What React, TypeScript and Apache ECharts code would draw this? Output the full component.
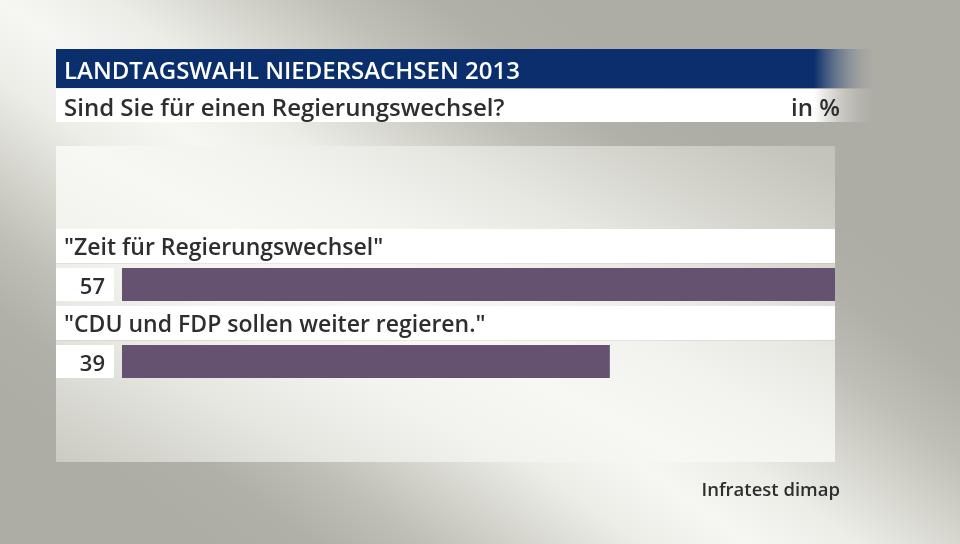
import React, { useEffect, useRef } from "react";
import * as echarts from "echarts";

const categories = ['"Zeit für Regierungswechsel"', '"CDU und FDP sollen weiter regieren."'];
const values = [57, 39];
const title = "LANDTAGSWAHL NIEDERSACHSEN 2013";
const subtitle = "Sind Sie für einen Regierungswechsel?";
const unitLabel = "in %";
const source = "Infratest dimap";
const xMax = 57;

const FONT = "'Open Sans', 'Noto Sans', sans-serif";
const TEXT = "#2e2e2e";
const BAR = "#655270";
const BLUE = "#0a2f6c";

function gradient(x: number, y: number, x2: number, y2: number, cols: string[]) {
  const offs = [0, 0.1, 0.2, 0.3, 0.4, 0.5];
  const stops: any[] = [];
  offs.forEach((o, i) => stops.push({ offset: o, color: cols[i] }));
  for (let i = offs.length - 2; i >= 0; i--) stops.push({ offset: 1 - offs[i], color: cols[i] });
  return { type: "linear", x, y, x2, y2, global: true, colorStops: stops };
}

const outerCols = ["#aeada5", "#b1b0a8", "#bfbeb7", "#d6d6cf", "#ecede7", "#f6f7f2"];
const panelCols = ["#bdbcb5", "#c5c5be", "#d5d5ce", "#e6e7e1", "#f2f3ee", "#f7f8f3"];

export default function App() {
  const ref = useRef<HTMLDivElement>(null);
  useEffect(() => {
    if (!ref.current) return;
    const chart = echarts.init(ref.current, null, { renderer: "svg" });
    const data = values.map((v, i) => [v, i]);
    chart.setOption({
      animation: false,
      grid: { left: 122, right: 125, top: 229, height: 154 },
      xAxis: { type: "value", min: 0, max: xMax, show: false },
      yAxis: { type: "category", data: categories, inverse: true, show: false },
      graphic: [
        { type: "rect", z: -10, shape: { x: 0, y: 0, width: 960, height: 544 }, style: { fill: gradient(187, 531, 563, 13, outerCols) } },
        { type: "rect", z: -9, shape: { x: 56, y: 146, width: 779, height: 316 }, style: { fill: gradient(194, 657, 556, -57, panelCols) } },
        {
          type: "rect",
          z: -5,
          shape: { x: 56, y: 49, width: 824, height: 39 },
          style: {
            fill: {
              type: "linear", x: 0, y: 0, x2: 1, y2: 0,
              colorStops: [
                { offset: 0, color: BLUE },
                { offset: 0.92, color: BLUE },
                { offset: 1, color: "rgba(174,173,165,0)" },
              ],
            },
          },
        },
        {
          type: "rect",
          z: -5,
          shape: { x: 56, y: 89, width: 824, height: 33 },
          style: {
            fill: {
              type: "linear", x: 0, y: 0, x2: 1, y2: 0,
              colorStops: [
                { offset: 0, color: "#ffffff" },
                { offset: 0.92, color: "#ffffff" },
                { offset: 1, color: "rgba(174,173,165,0)" },
              ],
            },
          },
        },
        { type: "text", x: 64, y: 69, style: { text: title, fill: "#ffffff", font: `600 24px ${FONT}`, textVerticalAlign: "middle" } },
        { type: "text", x: 64, y: 106, style: { text: subtitle, fill: TEXT, font: `600 24px ${FONT}`, textVerticalAlign: "middle" } },
        { type: "text", x: 840, y: 106, style: { text: unitLabel, fill: TEXT, font: `600 24px ${FONT}`, textAlign: "right", textVerticalAlign: "middle" } },
        { type: "text", x: 840, y: 488, style: { text: source, fill: TEXT, font: `600 18.5px ${FONT}`, textAlign: "right", textVerticalAlign: "middle" } },
      ],
      series: [
        {
          type: "custom",
          data,
          encode: { x: 0, y: 1 },
          renderItem: (params: any, api: any) => {
            const v = api.value(0);
            const idx = api.value(1);
            const start = api.coord([0, idx]);
            const end = api.coord([v, idx]);
            const full = api.coord([xMax, idx]);
            const band = api.size([0, 1])[1];
            const top = start[1] - band / 2;
            const left = start[0] - 66;
            const barTop = top + 39;
            return {
              type: "group",
              children: [
                { type: "rect", shape: { x: left, y: top, width: full[0] - left, height: 34 }, style: { fill: "#ffffff" } },
                { type: "rect", shape: { x: left, y: top + 34, width: full[0] - left, height: 1 }, style: { fill: "rgba(0,0,0,0.06)" } },
                { type: "text", x: left + 8, y: top + 17, style: { text: categories[idx], fill: TEXT, font: `600 23px ${FONT}`, textVerticalAlign: "middle" } },
                { type: "rect", shape: { x: left, y: barTop, width: 58, height: 33 }, style: { fill: "#ffffff" } },
                { type: "text", x: left + 49, y: barTop + 17, style: { text: String(v), fill: TEXT, font: `600 22px ${FONT}`, textAlign: "right", textVerticalAlign: "middle" } },
                { type: "rect", shape: { x: start[0], y: barTop, width: end[0] - start[0], height: 33 }, style: { fill: BAR } },
              ],
            };
          },
        },
      ],
    });
    return () => chart.dispose();
  }, []);
  return <div ref={ref} style={{ width: 960, height: 544, position: "fixed", left: 0, top: 0 }} />;
}
